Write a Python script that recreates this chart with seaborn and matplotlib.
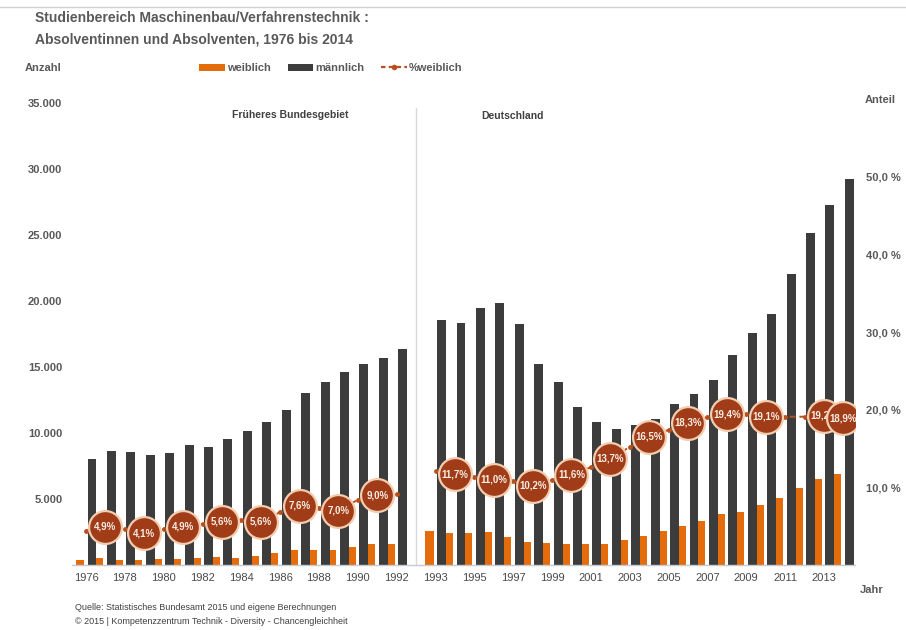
import numpy as np
import pandas as pd
import matplotlib
matplotlib.use("Agg")
import matplotlib.pyplot as plt
from matplotlib.patches import Patch
from matplotlib.lines import Line2D
import seaborn as sns

# Daten
jahre_west = list(range(1976, 1993))
jahre_de = list(range(1993, 2015))

maennlich_west = [8000, 8640, 8590, 8300, 8510, 9090, 8960, 9520, 10150, 10860,
                  11720, 13000, 13840, 14600, 15250, 15700, 16390]
weiblich_west = [360, 510, 360, 400, 450, 460, 510, 610, 560, 660,
                 890, 1110, 1110, 1110, 1360, 1570, 1620]
pct_west = [4.4, 4.9, 4.6, 4.1, 4.6, 4.9, 5.3, 5.6, 5.8, 5.6,
            6.8, 7.6, 7.4, 7.0, 8.4, 9.0, 9.1]

maennlich_de = [18540, 18360, 19450, 19870, 18280, 15200, 13860, 11970, 10860, 10330,
                10600, 11040, 12170, 12980, 14020, 15890, 17550, 18990, 22070, 25180,
                27250, 29270]
weiblich_de = [2575, 2450, 2450, 2520, 2120, 1770, 1690, 1615, 1560, 1615,
               1870, 2200, 2575, 2950, 3330, 3840, 4040, 4545, 5100, 5860,
               6540, 6870]
pct_de = [12.1, 11.7, 11.3, 11.0, 10.8, 10.2, 10.9, 11.6, 12.6, 13.7,
          15.2, 16.5, 17.4, 18.3, 19.0, 19.4, 19.4, 19.1, 19.1, 19.1,
          19.2, 18.9]

kreis_jahre = [1977, 1979, 1981, 1983, 1985, 1987, 1989, 1991,
               1994, 1996, 1998, 2000, 2002, 2004, 2006, 2008, 2010, 2013, 2014]
kreis_labels = ["4,9%", "4,1%", "4,9%", "5,6%", "5,6%", "7,6%", "7,0%", "9,0%",
                "11,7%", "11,0%", "10,2%", "11,6%", "13,7%", "16,5%", "18,3%",
                "19,4%", "19,1%", "19,2%", "18,9%"]

left_ticks = ["35.000", "30.000", "25.000", "20.000", "15.000", "10.000", "5.000"]
right_ticks = ["50,0 %", "40,0 %", "30,0 %", "20,0 %", "10,0 %"]

ORANGE = "#E46C0A"
DARK = "#3C3C3C"
KREIS = "#A03C17"
LINIE = "#B8501E"
GRAU = "#595959"

sns.set_theme(style="white")
plt.rcParams["font.family"] = ["Liberation Sans", "DejaVu Sans"]

# x-Positionen: eine leere Kategorie zwischen 1992 und 1993
pos = {j: i for i, j in enumerate(jahre_west)}
pos.update({j: i + 18 for i, j in enumerate(jahre_de)})

df = pd.DataFrame({
    "jahr": jahre_west + jahre_de,
    "weiblich": weiblich_west + weiblich_de,
    "maennlich": maennlich_west + maennlich_de,
    "pct": pct_west + pct_de,
})
df["x"] = df["jahr"].map(pos)
df["gebiet"] = np.where(df["jahr"] < 1993, "west", "de")

fig = plt.figure(figsize=(9.06, 6.3), dpi=100)
ax = fig.add_axes([72 / 906, 65 / 630, (855 - 72) / 906, (565 - 103) / 630])

sns.barplot(x=df["x"] - 0.31, y=df["weiblich"], native_scale=True, width=0.42,
            color=ORANGE, saturation=1, linewidth=0, errorbar=None, ax=ax, zorder=2)
sns.barplot(x=df["x"] + 0.31, y=df["maennlich"], native_scale=True, width=0.46,
            color=DARK, saturation=1, linewidth=0, errorbar=None, ax=ax, zorder=2)

ax.set_xlim(-0.72, 39.6)
ax.set_ylim(0, 35000)
ax.set_xlabel("")
ax.set_ylabel("")
for s in ["top", "right", "left"]:
    ax.spines[s].set_visible(False)
ax.spines["bottom"].set_color("#C5CBD6")
ax.spines["bottom"].set_linewidth(1)

tick_jahre = list(range(1976, 1993, 2)) + list(range(1993, 2014, 2))
ax.set_xticks([pos[j] for j in tick_jahre])
ax.set_xticklabels([str(j) for j in tick_jahre], fontsize=8, color="#4A4A4A")
ax.set_yticks([35000, 30000, 25000, 20000, 15000, 10000, 5000])
ax.set_yticklabels(left_ticks, fontsize=8, color=GRAU, fontweight="bold")
ax.tick_params(axis="both", length=0)
ax.tick_params(axis="y", pad=7)
ax.tick_params(axis="x", pad=6)

# Trennlinie zwischen früherem Bundesgebiet und Deutschland
ax.axvline(17, ymin=0, ymax=0.99, color="#D9D9D9", linewidth=1, zorder=1)

# Anteil-Achse
ax2 = ax.twinx()
ax2.set_ylim(0, 59.5)
for s in ax2.spines.values():
    s.set_visible(False)
ax2.set_yticks([50, 40, 30, 20, 10])
ax2.set_yticklabels(right_ticks, fontsize=8, color=GRAU, fontweight="bold")
ax2.tick_params(axis="y", length=0, pad=8)
ax2.grid(False)
ax.grid(False)

for gebiet in ["west", "de"]:
    teil = df[df["gebiet"] == gebiet]
    sns.lineplot(data=teil, x="x", y="pct", ax=ax2, color=LINIE, linewidth=1.4,
                 linestyle=(0, (3, 2)), marker="o", markersize=3.5,
                 markeredgewidth=0, zorder=3)

kreise = df[df["jahr"].isin(kreis_jahre)].copy()
kreise["label"] = kreise["jahr"].map(dict(zip(kreis_jahre, kreis_labels)))
# jeder Kreis mit eigener Ebene, damit der letzte den vorletzten überdeckt
for i, (_, r) in enumerate(kreise.iterrows()):
    sns.scatterplot(x=[r["x"]], y=[r["pct"]], ax=ax2, s=560, color=KREIS,
                    edgecolor="#F3CDB0", linewidth=1.6, zorder=4 + 2 * i, legend=False)
    ax2.text(r["x"], r["pct"], r["label"], ha="center", va="center",
             fontsize=7, fontweight="bold", color="#FAEDE4", zorder=5 + 2 * i)
ax2.set_xlabel("")
ax2.set_ylabel("")

# Beschriftungen
fig.text(35 / 906, 1 - 18 / 630, "Studienbereich Maschinenbau/Verfahrenstechnik :",
         fontsize=10, fontweight="bold", color=GRAU, va="center")
fig.text(35 / 906, 1 - 40 / 630, "Absolventinnen und Absolventen, 1976 bis 2014",
         fontsize=10, fontweight="bold", color=GRAU, va="center")
fig.add_artist(Line2D([0, 1], [1 - 7 / 630, 1 - 7 / 630], color="#D0D0D0", linewidth=1))

fig.text(25 / 906, 1 - 68 / 630, "Anzahl", fontsize=8, fontweight="bold",
         color=GRAU, va="center")
fig.text(865 / 906, 1 - 100 / 630, "Anteil", fontsize=8, fontweight="bold",
         color=GRAU, va="center")
fig.text(860 / 906, 1 - 590 / 630, "Jahr", fontsize=8, fontweight="bold",
         color=GRAU, va="center")
fig.text(290 / 906, 1 - 115 / 630, "Früheres Bundesgebiet", fontsize=7.5,
         fontweight="bold", color="#404040", ha="center", va="center")
fig.text(513 / 906, 1 - 116 / 630, "Deutschland", fontsize=7.5,
         fontweight="bold", color="#404040", ha="center", va="center")

fig.text(75 / 906, 1 - 607 / 630,
         "Quelle: Statistisches Bundesamt 2015 und eigene Berechnungen",
         fontsize=6.5, color="#404040", va="center")
fig.text(75 / 906, 1 - 621 / 630,
         "© 2015 | Kompetenzzentrum Technik - Diversity - Chancengleichheit",
         fontsize=6.5, color="#404040", va="center")

handles = [
    Patch(facecolor=ORANGE, edgecolor="none"),
    Patch(facecolor=DARK, edgecolor="none"),
    Line2D([0], [0], color=LINIE, linewidth=1.6, linestyle=(0, (2, 1.5)),
           marker="o", markersize=4, markeredgewidth=0),
]
leg = fig.legend(handles, ["weiblich", "männlich", "%weiblich"], loc="center",
                 bbox_to_anchor=(331 / 906, 1 - 68 / 630), ncol=3, frameon=False,
                 fontsize=8, handlelength=2.3, handleheight=0.6, handletextpad=0.2,
                 columnspacing=1.5)
for t in leg.get_texts():
    t.set_color(GRAU)
    t.set_fontweight("bold")

fig.savefig("out.png", dpi=100)
